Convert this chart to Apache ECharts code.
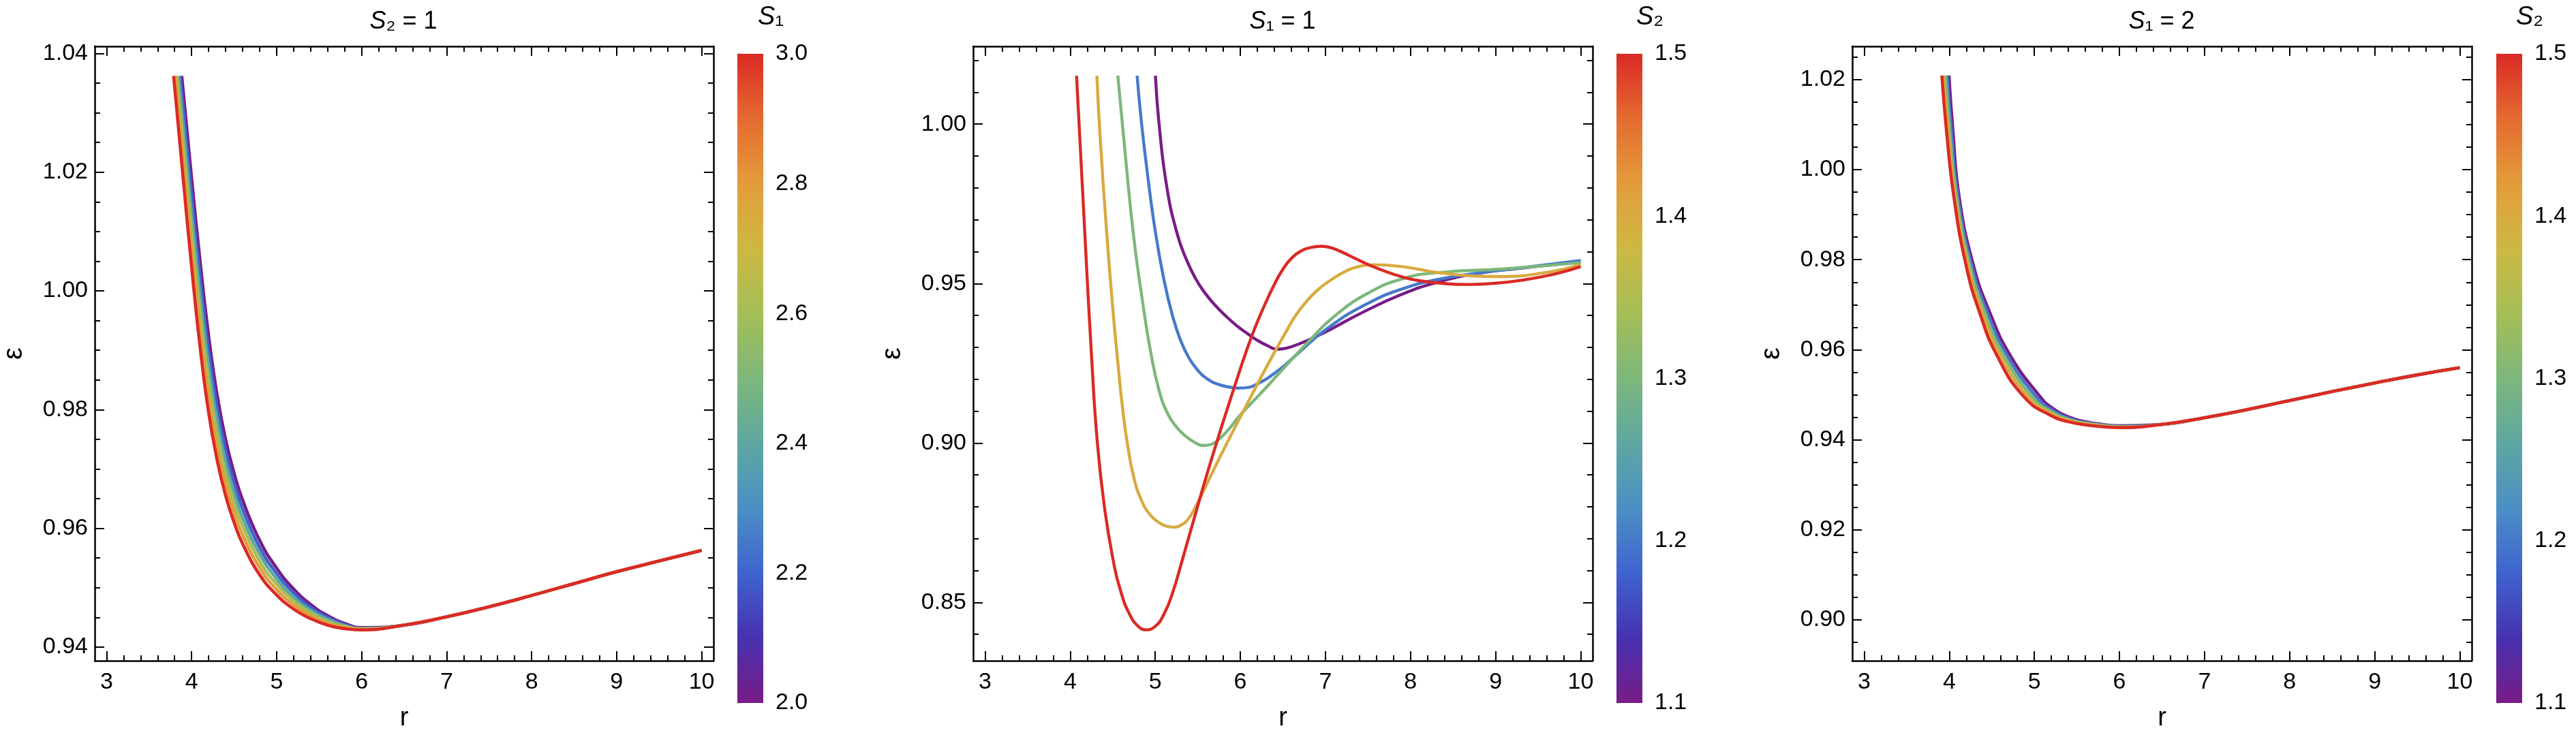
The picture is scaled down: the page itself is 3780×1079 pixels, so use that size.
<!DOCTYPE html>
<html><head><meta charset="utf-8">
<script src="https://cdn.jsdelivr.net/npm/echarts@6/dist/echarts.min.js"></script>
<style>html,body{margin:0;padding:0;background:#fff}#c{width:3780px;height:1079px}</style>
</head><body><div id="c"></div>
<script>
// ---------------- data ----------------
const xTicks = [3, 4, 5, 6, 7, 8, 9, 10];
const xRange = [2.86, 10.14];

// Panel 1 : S2 = 1, curves for S1
const p1S1 = [2.0, 2.2, 2.4, 2.6, 2.8, 3.0];
const p1YRange = [0.9377, 1.0412];
const p1YTicks = [0.94, 0.96, 0.98, 1.00, 1.02, 1.04];
const p1Top = 1.0362;
const p1StartR = [3.884, 3.865, 3.846, 3.826, 3.807, 3.788];
const p1R = [3.9, 4.0, 4.1, 4.2, 4.3, 4.4, 4.5, 4.6, 4.8, 5.0, 5.2, 5.4, 5.6, 5.8, 6.0, 6.5, 7.0, 7.5, 8.0, 8.5, 9.0, 9.5, 10.0];
const p1Eps20 = [1.0339, 1.0190, 1.0050, 0.9925, 0.9825, 0.9750, 0.9693, 0.9648, 0.9580, 0.9533, 0.9498, 0.9472, 0.9453, 0.9440, 0.9433, 0.9437, 0.9451, 0.9468, 0.9487, 0.9507, 0.9527, 0.9545, 0.9563];
const p1Eps22 = [1.0309, 1.0160, 1.0021, 0.9899, 0.9803, 0.9731, 0.9676, 0.9633, 0.9568, 0.9524, 0.9491, 0.9467, 0.9450, 0.9438, 0.9432, 0.9437, 0.9451, 0.9468, 0.9487, 0.9507, 0.9527, 0.9545, 0.9563];
const p1Eps24 = [1.0279, 1.0130, 0.9992, 0.9873, 0.9781, 0.9712, 0.9660, 0.9618, 0.9557, 0.9515, 0.9484, 0.9462, 0.9447, 0.9436, 0.9431, 0.9437, 0.9451, 0.9468, 0.9487, 0.9507, 0.9527, 0.9545, 0.9563];
const p1Eps26 = [1.0250, 1.0100, 0.9963, 0.9847, 0.9759, 0.9693, 0.9643, 0.9604, 0.9545, 0.9506, 0.9478, 0.9458, 0.9443, 0.9435, 0.9431, 0.9437, 0.9451, 0.9468, 0.9487, 0.9507, 0.9527, 0.9545, 0.9563];
const p1Eps28 = [1.0220, 1.0070, 0.9934, 0.9821, 0.9737, 0.9674, 0.9627, 0.9589, 0.9534, 0.9497, 0.9471, 0.9453, 0.9440, 0.9433, 0.9430, 0.9437, 0.9451, 0.9468, 0.9487, 0.9507, 0.9527, 0.9545, 0.9563];
const p1Eps30 = [1.0190, 1.0040, 0.9905, 0.9795, 0.9715, 0.9655, 0.9610, 0.9574, 0.9522, 0.9488, 0.9464, 0.9448, 0.9437, 0.9431, 0.9429, 0.9437, 0.9451, 0.9468, 0.9487, 0.9507, 0.9527, 0.9545, 0.9563];

// Panel 2 : S1 = 1, curves for S2  ([r, epsilon] pairs)
const p2S2 = [1.1, 1.2, 1.3, 1.4, 1.5];
const p2YRange = [0.8317, 1.0244];
const p2YTicks = [0.85, 0.90, 0.95, 1.00];
const p2Curve11 = [[5.002,1.0152],[5.045,1.0],[5.137,0.9801],[5.260,0.9654],[5.37,0.9573],[5.475,0.9515],[5.58,0.9472],[5.69,0.9436],[5.83,0.9398],[5.966,0.9366],[6.1,0.9340],[6.212,0.9320],[6.32,0.9305],[6.427,0.9294],[6.55,0.9298],[6.703,0.9312],[6.9,0.9335],[7.072,0.9358],[7.44,0.9410],[7.87,0.9463],[8.3,0.9503],[8.792,0.9532],[9.283,0.9548],[10,0.9568]];
const p2Curve12 = [[4.787,1.0152],[4.84,1.0],[4.92,0.982],[5.0,0.9665],[5.1,0.9515],[5.2,0.9402],[5.3,0.9320],[5.4,0.9265],[5.5,0.9228],[5.6,0.9203],[5.75,0.9183],[5.9,0.9174],[5.966,0.9172],[6.05,0.9173],[6.212,0.9187],[6.458,0.9230],[6.673,0.9280],[7.01,0.9357],[7.471,0.9434],[7.932,0.9486],[8.362,0.9515],[8.792,0.9533],[9.2,0.9546],[10,0.9572]];
const p2Curve13 = [[4.560,1.0152],[4.66,0.9870],[4.75,0.9640],[4.85,0.9445],[4.95,0.9280],[5.05,0.9160],[5.15,0.9090],[5.25,0.9050],[5.35,0.9023],[5.45,0.9004],[5.567,0.8992],[5.65,0.8995],[5.751,0.9012],[5.87,0.9045],[5.997,0.9087],[6.273,0.9165],[6.519,0.9237],[6.826,0.9325],[7.103,0.9397],[7.502,0.9470],[7.932,0.9517],[8.362,0.9535],[9.099,0.9546],[10,0.9566]];
const p2Curve14 = [[4.314,1.0152],[4.35,0.997],[4.431,0.9654],[4.5,0.9425],[4.566,0.9237],[4.62,0.9100],[4.68,0.8985],[4.75,0.8890],[4.83,0.8825],[4.93,0.8778],[5.045,0.8750],[5.13,0.8739],[5.211,0.8736],[5.3,0.8742],[5.383,0.8760],[5.45,0.8788],[5.524,0.8826],[5.671,0.8907],[5.843,0.90],[6.089,0.9127],[6.304,0.9237],[6.55,0.9355],[6.65,0.9400],[6.765,0.9440],[6.9,0.9478],[7.041,0.9507],[7.256,0.9541],[7.4,0.9554],[7.563,0.9559],[7.932,0.9552],[8.362,0.9533],[9.037,0.9522],[9.6,0.9535],[10,0.956]];
const p2Curve15 = [[4.075,1.0152],[4.173,0.9654],[4.259,0.9237],[4.32,0.90],[4.40,0.8805],[4.50,0.8640],[4.60,0.8530],[4.70,0.8462],[4.80,0.8425],[4.891,0.8414],[5.0,0.8425],[5.1,0.8462],[5.2,0.8527],[5.32,0.8635],[5.475,0.8780],[5.6,0.8895],[5.72,0.9000],[5.85,0.9110],[5.96,0.9200],[6.06,0.9280],[6.17,0.9360],[6.273,0.9425],[6.396,0.9495],[6.5,0.9545],[6.611,0.9582],[6.72,0.9603],[6.826,0.9613],[6.95,0.9617],[7.07,0.9612],[7.2,0.9598],[7.348,0.9579],[7.5,0.9560],[7.686,0.9540],[7.9,0.9521],[8.1,0.9509],[8.4,0.9500],[8.669,0.9497],[9.0,0.9501],[9.344,0.9512],[9.7,0.9530],[10,0.9553]];

// Panel 3 : S1 = 2, curves for S2
const p3S2 = [1.1, 1.2, 1.3, 1.4, 1.5];
const p3YRange = [0.8909, 1.0274];
const p3YTicks = [0.90, 0.92, 0.94, 0.96, 0.98, 1.00, 1.02];
const p3EpsSteep = [1.0209, 1.0089, 0.9938, 0.9788, 0.9687, 0.9586, 0.9494];
const p3RSteep11 = [3.996, 4.042, 4.117, 4.283, 4.467, 4.721, 5.075];
const p3RSteep12 = [3.975, 4.023, 4.102, 4.262, 4.438, 4.682, 5.028];
const p3RSteep13 = [3.955, 4.004, 4.086, 4.240, 4.408, 4.643, 4.980];
const p3RSteep14 = [3.934, 3.985, 4.071, 4.219, 4.379, 4.603, 4.933];
const p3RSteep15 = [3.913, 3.966, 4.055, 4.197, 4.349, 4.564, 4.885];
const p3RTail = [5.2, 5.4, 5.6, 5.8, 6.0, 6.5, 7.0, 7.5, 8.0, 8.5, 9.0, 9.5, 10.0];
const p3ETail11 = [0.9472, 0.9451, 0.9440, 0.9434, 0.9431, 0.9434, 0.9449, 0.9467, 0.9487, 0.9507, 0.9526, 0.9544, 0.9560];
const p3ETail12 = [0.9467, 0.9448, 0.9438, 0.9433, 0.9430, 0.9434, 0.9449, 0.9467, 0.9487, 0.9507, 0.9526, 0.9544, 0.9560];
const p3ETail13 = [0.9462, 0.9445, 0.9437, 0.9432, 0.9429, 0.9434, 0.9449, 0.9467, 0.9487, 0.9507, 0.9526, 0.9544, 0.9560];
const p3ETail14 = [0.9458, 0.9443, 0.9435, 0.9430, 0.9428, 0.9434, 0.9449, 0.9467, 0.9487, 0.9507, 0.9526, 0.9544, 0.9560];
const p3ETail15 = [0.9453, 0.9440, 0.9433, 0.9429, 0.9427, 0.9434, 0.9449, 0.9467, 0.9487, 0.9507, 0.9526, 0.9544, 0.9560];

// Colour bars
const cb1Range = [2.0, 3.0];
const cb2Range = [1.1, 1.5];
const rainbowStops = ['#781C86', '#4731B0', '#3F63CF', '#4B8FC5', '#5EA7A1', '#7DB77B', '#A5BE56', '#CDB843', '#E39C3A', '#E46B30', '#DA2A25'];

// ---------------- helpers ----------------
const FONT = '"Liberation Sans", Arial, Helvetica, sans-serif';
function hex2rgb(h) { return [parseInt(h.slice(1,3),16), parseInt(h.slice(3,5),16), parseInt(h.slice(5,7),16)]; }
function rainbow(f) {
  f = Math.max(0, Math.min(1, f));
  const n = rainbowStops.length - 1;
  const i = Math.min(n - 1, Math.floor(f * n));
  const t = f * n - i;
  const a = hex2rgb(rainbowStops[i]), b = hex2rgb(rainbowStops[i + 1]);
  const c = a.map((v, k) => Math.round(v + (b[k] - v) * t));
  return 'rgb(' + c.join(',') + ')';
}
function minorList(min, max, step, majors) {
  const out = [];
  const k0 = Math.ceil(min / step - 1e-9), k1 = Math.floor(max / step + 1e-9);
  for (let k = k0; k <= k1; k++) {
    const v = +(k * step).toFixed(6);
    if (!majors.some(m => Math.abs(m - v) < 1e-9)) out.push(v);
  }
  return out;
}
function zip(rs, es) { return rs.map((r, i) => [r, es[i]]); }

const LINE = { show: true, onZero: false, lineStyle: { color: '#000', width: 2.5 } };
const TICK = { color: '#000', width: 2 };
const xMinor = minorList(xRange[0], xRange[1], 0.2, xTicks);

const grids = [], xAxes = [], yAxes = [], series = [];

function addPanel(left, yRange, yTicks, yStep) {
  const g = grids.length;
  grids.push({ left: left, top: 68, width: 909, height: 904 });
  const yMinor = minorList(yRange[0], yRange[1], yStep, yTicks);
  const bx = { type: 'value', gridIndex: g, min: xRange[0], max: xRange[1], splitLine: { show: false } };
  xAxes.push(Object.assign({}, bx, { position: 'bottom', axisLine: LINE,
    axisTick: { show: true, inside: true, length: 14, customValues: xTicks, lineStyle: TICK },
    axisLabel: { show: true, customValues: xTicks, margin: 15, fontSize: 34, color: '#000', fontFamily: FONT },
    name: 'r', nameLocation: 'middle', nameGap: 66, nameTextStyle: { fontSize: 38, color: '#000', fontFamily: FONT } }));
  xAxes.push(Object.assign({}, bx, { position: 'bottom', axisLine: { show: false },
    axisTick: { show: true, inside: true, length: 8, customValues: xMinor, lineStyle: TICK }, axisLabel: { show: false } }));
  xAxes.push(Object.assign({}, bx, { position: 'top', axisLine: LINE,
    axisTick: { show: true, inside: true, length: 14, customValues: xTicks, lineStyle: TICK }, axisLabel: { show: false } }));
  xAxes.push(Object.assign({}, bx, { position: 'top', axisLine: { show: false },
    axisTick: { show: true, inside: true, length: 8, customValues: xMinor, lineStyle: TICK }, axisLabel: { show: false } }));
  const by = { type: 'value', gridIndex: g, min: yRange[0], max: yRange[1], splitLine: { show: false } };
  yAxes.push(Object.assign({}, by, { position: 'left', axisLine: LINE,
    axisTick: { show: true, inside: true, length: 14, customValues: yTicks, lineStyle: TICK },
    axisLabel: { show: true, customValues: yTicks, margin: 10, fontSize: 34, color: '#000', fontFamily: FONT, formatter: v => (+v).toFixed(2) },
    name: 'ε', nameLocation: 'middle', nameRotate: 90, nameGap: 98, nameTextStyle: { fontSize: 40, color: '#000', fontFamily: FONT } }));
  yAxes.push(Object.assign({}, by, { position: 'left', axisLine: { show: false },
    axisTick: { show: true, inside: true, length: 8, customValues: yMinor, lineStyle: TICK }, axisLabel: { show: false } }));
  yAxes.push(Object.assign({}, by, { position: 'right', axisLine: LINE,
    axisTick: { show: true, inside: true, length: 14, customValues: yTicks, lineStyle: TICK }, axisLabel: { show: false } }));
  yAxes.push(Object.assign({}, by, { position: 'right', axisLine: { show: false },
    axisTick: { show: true, inside: true, length: 8, customValues: yMinor, lineStyle: TICK }, axisLabel: { show: false } }));
  return g * 4;
}

function addLine(axisIdx, data, color, width) {
  series.push({ type: 'line', xAxisIndex: axisIdx, yAxisIndex: axisIdx, data: data, showSymbol: false,
    smooth: 0.5, lineStyle: { color: color, width: width, cap: 'butt' }, itemStyle: { color: color },
    silent: true, animation: false });
}

function addColorBar(left, range, interval) {
  const g = grids.length;
  grids.push({ left: left, top: 79, width: 38, height: 953 });
  const xi = xAxes.length, yi = yAxes.length;
  xAxes.push({ type: 'value', gridIndex: g, min: 0, max: 1, show: false });
  yAxes.push({ type: 'value', gridIndex: g, min: range[0], max: range[1], interval: interval, position: 'right',
    splitLine: { show: false }, axisLine: { show: false },
    axisTick: { show: true, length: 6, lineStyle: { color: '#c8c8c8', width: 1.5 } },
    minorTick: { show: true, splitNumber: 4, length: 5, lineStyle: { color: '#d0d0d0', width: 1.2 } },
    axisLabel: { margin: 18, fontSize: 34, color: '#000', fontFamily: FONT, formatter: v => (+v).toFixed(1) } });
  const stops = rainbowStops.map((c, i) => ({ offset: i / (rainbowStops.length - 1), color: c }));
  series.push({ type: 'custom', xAxisIndex: xi, yAxisIndex: yi, data: [[0]], silent: true, animation: false,
    renderItem: function (params, api) {
      const p0 = api.coord([0, range[1]]);
      const p1 = api.coord([1, range[0]]);
      return { type: 'rect', shape: { x: p0[0], y: p0[1], width: p1[0] - p0[0], height: p1[1] - p0[1] },
        style: { fill: new echarts.graphic.LinearGradient(0, 1, 0, 0, stops) } };
    } });
}

// ---------------- build ----------------
const a1 = addPanel(138, p1YRange, p1YTicks, 0.005);
const p1Eps = [p1Eps20, p1Eps22, p1Eps24, p1Eps26, p1Eps28, p1Eps30];
p1S1.forEach((s, i) => {
  const data = [[p1StartR[i], p1Top]].concat(zip(p1R, p1Eps[i]));
  addLine(a1, data, rainbow((s - cb1Range[0]) / (cb1Range[1] - cb1Range[0])), 4.6);
});

const a2 = addPanel(1428, p2YRange, p2YTicks, 0.01);
[p2Curve11, p2Curve12, p2Curve13, p2Curve14, p2Curve15].forEach((d, i) => {
  addLine(a2, d, rainbow((p2S2[i] - cb2Range[0]) / (cb2Range[1] - cb2Range[0])), 4.4);
});

const a3 = addPanel(2718, p3YRange, p3YTicks, 0.005);
const p3RS = [p3RSteep11, p3RSteep12, p3RSteep13, p3RSteep14, p3RSteep15];
const p3ET = [p3ETail11, p3ETail12, p3ETail13, p3ETail14, p3ETail15];
p3S2.forEach((s, i) => {
  const data = zip(p3RS[i], p3EpsSteep).concat(zip(p3RTail, p3ET[i]));
  addLine(a3, data, rainbow((s - cb2Range[0]) / (cb2Range[1] - cb2Range[0])), 4.6);
});

addColorBar(1082, cb1Range, 0.2);
addColorBar(2372, cb2Range, 0.1);
addColorBar(3663, cb2Range, 0.1);

function label(x, y, pre, sub, post, size) {
  return { type: 'text', x: x, y: y, silent: true,
    style: { text: '{i|' + pre + '}' + sub + post, fontSize: size, fontFamily: FONT, fill: '#000',
      align: 'center', verticalAlign: 'middle',
      rich: { i: { fontStyle: 'italic', fontSize: size, fontFamily: FONT } } } };
}

const chart = echarts.init(document.getElementById('c'), null, { renderer: 'canvas' });
chart.setOption({
  backgroundColor: '#fff',
  animation: false,
  grid: grids,
  xAxis: xAxes,
  yAxis: yAxes,
  series: series,
  graphic: [
    label(592, 32, 'S', '₂', ' = 1', 36),
    label(1882, 32, 'S', '₁', ' = 1', 36),
    label(3172, 32, 'S', '₁', ' = 2', 36),
    label(1131, 25, 'S', '₁', '', 38),
    label(2421, 25, 'S', '₂', '', 38),
    label(3712, 25, 'S', '₂', '', 38)
  ]
});
</script>
</body></html>
